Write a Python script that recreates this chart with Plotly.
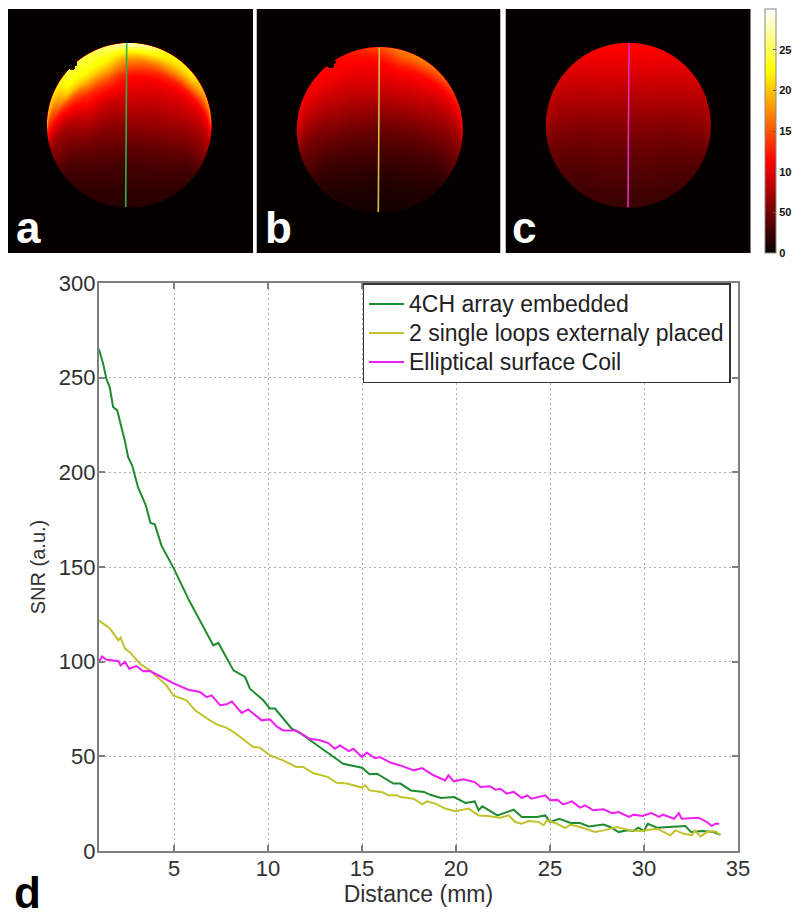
import numpy as np
import plotly.graph_objects as go

# the page keeps an 8 px body margin, so the figure is sized to fit inside it
PAGE_MARGIN = 8
W, H = 800 - PAGE_MARGIN, 919 - PAGE_MARGIN


def px(v):
    return (v - PAGE_MARGIN) / W


def py(v):
    return 1 - (v - PAGE_MARGIN) / H


# ---- line chart data ----
array_x = [1,1.23,1.4,1.58,1.76,1.98,2.2,2.38,2.56,2.77,3.09,3.5,3.75,3.98,4.33,5,5.8,6.38,7.09,7.36,8.16,8.78,9.04,9.75,10.1,10.37,11.26,11.7,12.23,13.1,14,15,15.4,15.8,16.67,17.04,17.6,18.3,18.6,19.2,19.9,20.5,21,21.2,21.4,22.2,23.07,23.5,24.3,24.75,25,25.5,26.1,26.6,27.06,27.85,28.2,28.65,29.1,29.45,29.7,30,30.2,30.7,31.6,32.2,32.5,33.1,33.7,34.06]
array_y = [265.3,257.4,249.5,245,234.5,232.7,224,217,208,203.7,192,182.6,173.2,172.5,161.4,149,132.4,121.8,108.6,109.9,95.4,91.9,85.7,79.6,75.2,75.2,64.6,62.3,58.5,52.3,46.1,44,40.5,40.8,35.6,35.6,32,31.2,29.8,28,28.5,25.4,26.2,21.5,23.6,18.8,21.8,18,18,18.8,15.3,17,14.8,14.8,13,14,12.7,10,10.9,10.6,12.3,10.6,14.4,12.3,12.7,13.2,10,10.6,10,8.6]

loops_x = [1,1.6,2.04,2.16,2.39,2.65,3.19,3.72,4.6,4.96,5.67,6.12,6.91,7.27,7.8,8.16,8.87,9.22,9.57,10.1,10.8,11.5,11.87,12.4,13.2,13.65,14.2,15,15.16,15.4,16.1,16.4,16.84,17.04,17.75,18.2,18.46,18.9,19.43,19.96,20.67,21.2,21.7,22.36,22.8,23.16,23.5,23.87,24.4,24.66,24.84,25.37,25.8,26.1,26.6,27.4,27.85,28.56,29.27,29.8,30.7,31.4,31.67,32.1,32.55,32.7,33,33.35,33.8,34.06]
loops_y = [121.8,117.4,111.3,112.7,106.9,105,98.9,95.4,87.5,82.2,79.6,74.3,69,66.9,65,62.9,57.6,54.9,54.6,50.5,47.9,44.4,44.4,41.2,39,36,35.6,33.5,34.7,32,31,29.4,29.4,28.5,27.6,24.6,26.2,25,22.4,21,22.4,18.8,18.5,17.6,18.8,15.3,14.4,15.8,15.3,13.6,16.2,14.4,12.1,13.9,12.7,10,10.9,12.7,10.9,10.6,11.8,8.3,10.9,9.2,8.3,10.9,7.7,10,10.4,8.3]

surface_x = [1,1.18,1.4,2.04,2.16,2.39,2.62,3,3.37,3.72,4.26,4.96,5.76,6.38,6.74,7,7.45,7.8,8.07,8.6,8.95,9.66,10.1,10.46,10.8,11.5,12.23,12.77,13.2,13.56,13.83,14.3,14.54,15,15.25,15.7,15.96,16.5,17.04,17.75,18.2,18.8,19.43,19.6,19.88,20.4,21,21.3,21.8,22.1,22.36,22.7,23.07,23.5,23.8,24,24.75,25,25.4,25.7,26.17,26.6,26.88,27.3,27.85,28.3,28.65,29.2,29.45,29.9,30.4,30.8,31,31.6,31.85,32,32.9,33.35,33.6,33.8,34]
surface_y = [100,102.8,101,100.4,98,100,96.3,97.7,94.9,95,92.3,88.7,85.2,84,81.3,82.2,77,77.5,79,72.9,74.8,69,69.5,65.8,63.7,63.7,59.3,58.5,57,54,55.8,52.8,54,49.6,52,49,49.6,46.7,45.2,42.6,43.8,40,37.3,40,36.8,37.9,36.4,33.8,34.2,32.4,32.9,30.3,31.2,28,29.4,27.6,29.4,26.8,27,24.6,26.2,22.9,24.1,21.5,22,20,20.6,18,19.2,18.5,20,18,19.2,17,20,17,17.6,15.3,13.2,14.4,14.4]

series_names = ["4CH array embedded", "2 single loops externaly placed", "Elliptical surface Coil"]
x_ticks = [5, 10, 15, 20, 25, 30, 35]
y_ticks = [0, 50, 100, 150, 200, 250, 300]
cbar_ticks = [0, 50, 100, 150, 200, 250, 300]

# ---- SNR map tables: one column per position across the phantom,
#      one row per depth below the upper rim (in radii) ----
map_u = [-1, -.75, -.5, -.25, 0, .25, .5, .75, 1]
map_d = [0, .05, .1, .2, .3, .4, .5, .7, 1, 1.25, 1.5, 1.75, 2]
map_a = [
    [200, 245, 250, 265, 300, 270, 230, 225, 175],
    [190, 240, 242, 248, 260, 245, 220, 215, 165],
    [175, 235, 235, 235, 225, 225, 210, 205, 150],
    [130, 225, 228, 215, 175, 170, 175, 165, 115],
    [110, 195, 205, 185, 145, 135, 130, 120, 100],
    [ 95, 140, 165, 150, 115, 112, 110, 105,  88],
    [ 75, 112, 130, 125, 108, 102,  98,  92,  75],
    [ 55,  70, 100,  88,  90,  85,  82,  72,  58],
    [ 40,  45,  58,  60,  62,  62,  58,  45,  40],
    [ 30,  25,  38,  42,  42,  42,  38,  25,  25],
    [ 20,  18,  25,  28,  28,  28,  25,  18,  20],
    [ 16,  14,  16,  20,  20,  20,  16,  14,  16],
    [ 12,  12,  14,  14,  14,  14,  14,  12,  12],
]
map_b = [
    [105, 115, 115, 130, 150, 170, 175, 160, 115],
    [102, 112, 112, 122, 137, 160, 162, 145, 110],
    [100, 110, 110, 115, 125, 150, 150, 130, 105],
    [ 90, 105, 108, 108, 112, 125, 120, 110,  92],
    [ 78,  95, 100, 102, 105, 110, 108,  98,  80],
    [ 68,  85,  92,  96,  98, 100,  98,  86,  70],
    [ 58,  75,  85,  88,  90,  92,  88,  75,  60],
    [ 42,  56,  68,  70,  72,  72,  68,  58,  45],
    [ 28,  36,  42,  45,  45,  45,  42,  36,  30],
    [ 18,  20,  27,  30,  30,  30,  27,  20,  18],
    [ 12,  12,  16,  18,  18,  18,  16,  12,  12],
    [  8,   8,   9,  10,  10,  10,   9,   8,   8],
    [  6,   6,   6,   6,   6,   6,   6,   6,   6],
]
map_c = [
    [ 78,  98, 108, 114, 115, 114, 108,  98,  78],
    [ 76,  96, 106, 112, 112, 112, 106,  96,  76],
    [ 74,  94, 104, 110, 110, 110, 104,  94,  74],
    [ 68,  88,  98, 105, 105, 105,  98,  88,  68],
    [ 62,  82,  92, 100, 100, 100,  92,  82,  62],
    [ 56,  76,  86,  94,  94,  94,  86,  76,  56],
    [ 50,  70,  80,  88,  88,  88,  80,  70,  50],
    [ 40,  58,  68,  76,  76,  76,  68,  58,  40],
    [ 30,  42,  50,  58,  58,  58,  50,  42,  30],
    [ 25,  32,  40,  46,  46,  46,  40,  32,  25],
    [ 22,  25,  31,  37,  37,  37,  31,  25,  22],
    [ 20,  20,  24,  29,  29,  29,  24,  20,  20],
    [ 18,  18,  20,  22,  22,  22,  20,  18,  18],
]
# panel pixel frames, disks (centre x, centre y, radius) and rim notches
panel_frames = [(8, 253), (256.5, 500.5), (505.5, 751)]
panel_top, panel_bottom = 9, 253
panel_disks = [(129.2, 125.3, 82.3), (379.3, 130, 83), (627.8, 125.3, 82.5)]
panel_notches = [[(72, 67, 3.5), (75, 64, 2.5)], [(330, 65, 3.5), (333, 62, 2.5)], [(709, 102, 3), (544, 147, 2.5)]]
probe_x = [(126.7, 125.7), (379.3, 378.3), (629, 628)]
probe_y = [(43.3, 207), (47.7, 212), (43.3, 207.3)]
probe_colors = ["#2fae4f", "#d4bf45", "#e12fc0"]
panel_labels = ["a", "b", "c"]
label_left = [14, 263, 510]


def build_map(table, frame, disk, notches):
    xs = np.arange(frame[0] + 0.5, frame[1], 1.0)
    ys = np.arange(panel_top + 0.5, panel_bottom, 1.0)
    X, Y = np.meshgrid(xs, ys)
    cx, cy, r = disk
    U = np.clip((X - cx) / r, -1, 1)
    D = (Y - cy) / r + np.sqrt(1 - U ** 2)
    t = np.array(table, float)
    by_col = np.array([np.interp(D.ravel(), map_d, t[:, j]) for j in range(t.shape[1])]).T
    iu = np.clip(np.searchsorted(map_u, U.ravel()) - 1, 0, len(map_u) - 2)
    u0, u1 = np.array(map_u)[iu], np.array(map_u)[iu + 1]
    f = np.clip((U.ravel() - u0) / (u1 - u0), 0, 1)
    rows = np.arange(U.size)
    z = (by_col[rows, iu] * (1 - f) + by_col[rows, iu + 1] * f).reshape(U.shape)
    edge = np.clip((r + 0.5 - np.hypot(X - cx, Y - cy)), 0, 1)
    z = z * edge
    for nx, ny, nr in notches:
        z[np.hypot(X - nx, Y - ny) < nr] = 4
    return xs, ys, np.round(z, 1)


hot = [[0, "#050000"], [0.375, "#ff0000"], [0.75, "#ffff00"], [1, "#ffffff"]]
fig = go.Figure()

ANNOT = []
for i, table in enumerate([map_a, map_b, map_c]):
    ax = i + 2
    xs, ys, z = build_map(table, panel_frames[i], panel_disks[i], panel_notches[i])
    fig.add_trace(go.Heatmap(x=xs, y=ys, z=z, coloraxis="coloraxis", xaxis=f"x{ax}", yaxis=f"y{ax}",
                             showlegend=False, hoverinfo="skip"))
    fig.add_trace(go.Scatter(x=probe_x[i], y=probe_y[i], mode="lines", xaxis=f"x{ax}", yaxis=f"y{ax}",
                             line=dict(color=probe_colors[i], width=1.6), showlegend=False, hoverinfo="skip"))
    l, r = panel_frames[i]
    fig.layout[f"xaxis{ax}"] = dict(domain=[px(l), px(r)], range=[l, r], visible=False, anchor=f"y{ax}")
    fig.layout[f"yaxis{ax}"] = dict(domain=[py(panel_bottom), py(panel_top)], range=[panel_bottom, panel_top],
                                    visible=False, anchor=f"x{ax}")
    ANNOT.append(dict(text=f"<b>{panel_labels[i]}</b>", xref="paper", yref="paper", x=px(label_left[i]), y=py(254),
                      xanchor="left", yanchor="bottom", showarrow=False,
                      font=dict(family="Liberation Sans", size=44, color="white")))
ANNOT.append(dict(text="<b>d</b>", xref="paper", yref="paper", x=px(12), y=0, xanchor="left",
                  yanchor="bottom", showarrow=False, font=dict(family="Liberation Sans", size=44, color="black")))

for name, xv, yv, col in zip(series_names, [array_x, loops_x, surface_x], [array_y, loops_y, surface_y],
                             ["#1e8c2e", "#c2c22c", "#f01ef0"]):
    fig.add_trace(go.Scatter(x=xv, y=yv, name=f'<span style="font-size:23px">{name}</span>', mode="lines",
                             line=dict(color=col, width=2), xaxis="x", yaxis="y"))

font = dict(family="Liberation Sans", color="#303030")
axis_common = dict(showline=True, linecolor="#7f7f7f", linewidth=2, mirror="ticks", ticks="inside", ticklen=6,
                   tickcolor="#7f7f7f", tickwidth=2, showgrid=True, gridcolor="#b0b0b0", griddash="2px,3px",
                   gridwidth=1.4, zeroline=False, automargin=False, ticklabelstandoff=-3,
                   tickfont=dict(size=22, **font))
fig.update_layout(
    width=W, height=H, autosize=False, margin=dict(l=0, r=0, t=0, b=0, autoexpand=False),
    paper_bgcolor="white", plot_bgcolor="white",
    coloraxis=dict(colorscale=hot, cmin=0, cmax=300, colorbar=dict(
        x=px(765), xanchor="left", xpad=0, y=py(9), yanchor="top", ypad=0, thickness=11, lenmode="pixels", len=244,
        tickvals=cbar_ticks, ticks="inside", ticklen=3, tickcolor="#555", outlinecolor="#888", outlinewidth=1,
        tickfont=dict(family="Liberation Sans", size=11, color="#111", weight=700))),
    xaxis=dict(domain=[px(98.8), px(738)], range=[1, 35], tickvals=x_ticks, anchor="y",
               title=dict(text="Distance (mm)", font=dict(size=23, **font), standoff=1), **axis_common),
    yaxis=dict(domain=[py(851), py(283)], range=[0, 300], tickvals=y_ticks, anchor="x",
               title=dict(text="SNR (a.u.)", font=dict(size=20, **font), standoff=8), **axis_common),
    legend=dict(x=px(362.5), y=py(283), xanchor="left", yanchor="top", bgcolor="white", bordercolor="#333333",
                borderwidth=1.5, itemwidth=35, font=dict(family="Liberation Sans", size=20, color="#222222"),
                entrywidth=390, entrywidthmode="pixels", tracegroupgap=0),
    annotations=ANNOT,
)
fig.write_html("out.html")
